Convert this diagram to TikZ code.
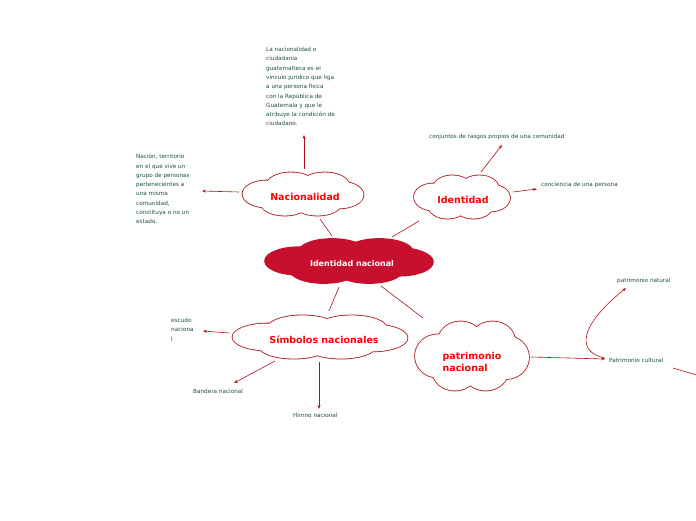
\documentclass[tikz,border=0pt]{standalone}
\usepackage{fontspec}
\setmainfont{DejaVu Sans}
\usetikzlibrary{arrows.meta,positioning}
\definecolor{linkred}{HTML}{B0121B}
\definecolor{textgreen}{HTML}{1F4A4A}
\definecolor{centerred}{HTML}{C8102E}
\tikzset{
    lobe edge/.style={draw=linkred, line width=1.6pt},
    lobe fill/.style={fill=white},
    topic/.style={text=red, font=\bfseries\fontsize{9.5}{12}\selectfont, inner sep=0pt, align=left},
    note/.style={text=textgreen, font=\fontsize{5.7}{9.3}\selectfont, inner sep=0pt, align=left},
    link/.style={draw=linkred, line width=0.6pt},
    arrowlink/.style={link, -{Stealth[length=4pt,width=3pt]}}
}
% cloud from overlapping ellipses: #1 centre, #2 width, #3 height, #4 edge style, #5 fill style
\newcommand{\mapcloud}[5]{%
  \begin{scope}[shift={#1}]
    \foreach \lx/\ly/\rx/\ry in {-.3/0/.2/.3, -.1/-.2/.2/.28, .18/-.2/.2/.28, .3/.02/.2/.3, .12/.2/.2/.28, -.15/.2/.2/.28, 0/0/.35/.3}
      \path[#4] (\lx*#2,\ly*#3) ellipse [x radius=\rx*#2, y radius=\ry*#3];
    \foreach \lx/\ly/\rx/\ry in {-.3/0/.2/.3, -.1/-.2/.2/.28, .18/-.2/.2/.28, .3/.02/.2/.3, .12/.2/.2/.28, -.15/.2/.2/.28, 0/0/.35/.3}
      \path[#5] (\lx*#2,\ly*#3) ellipse [x radius=\rx*#2, y radius=\ry*#3];
  \end{scope}}
\begin{document}
\begin{tikzpicture}[x=1pt,y=-1pt]
    \useasboundingbox (0,0) rectangle (696,520);

    % main clouds
    \mapcloud{(349,261)}{168}{46}{draw=centerred, line width=1.6pt}{fill=centerred}
    \mapcloud{(303,194)}{121}{45}{lobe edge}{lobe fill}
    \mapcloud{(462,197)}{96}{45}{lobe edge}{lobe fill}
    \mapcloud{(320,337)}{175}{45}{lobe edge}{lobe fill}
    \mapcloud{(472,356)}{114}{72}{lobe edge}{lobe fill}
    \node[topic, text=white, font=\bfseries\fontsize{8}{10}\selectfont] (center) at (352,264) {Identidad nacional};
    \node[topic] (nac) at (305,197) {Nacionalidad};
    \node[topic] (ide) at (463,200) {Identidad};
    \node[topic] (sim) at (324,340) {Símbolos nacionales};
    \node[topic] (pat) at (472,362) {patrimonio\\nacional};

    % notes
    \node[note, anchor=north west] (nacdef) at (266,47) {La nacionalidad o\\ciudadania\\guatemalteca es el\\vinculo juridico que liga\\a una persona fisica\\con la República de\\Guatemala y que le\\atribuye la condición de\\ciudadano.};
    \node[note, anchor=north west] (nacter) at (136,154) {Nación, territorio\\en el que vive un\\grupo de personas\\pertenecientes a\\una misma\\comunidad,\\constituya o no un\\estado.};
    \node[note, anchor=west] (rasgos) at (429,137) {conjuntos de rasgos propios de una comunidad};
    \node[note, anchor=west] (concie) at (541,185) {conciencia de una persona};
    \node[note, anchor=north west] (escudo) at (171,318) {escudo\\naciona\\l};
    \node[note, anchor=west] (bandera) at (193,391) {Bandera nacional};
    \node[note, anchor=west] (himno) at (293,415) {Himno nacional};
    \node[note, anchor=west] (cultural) at (609,360) {Patrimonio cultural};
    \node[note, anchor=west] (natural) at (617,281) {patrimonio natural};
    \coordinate (offedge) at (700,376);

    % links from the center
    \draw[link] (332,236) -- (320,219);
    \draw[link] (392,237) -- (419,221);
    \draw[link] (339,287) -- (329,311);
    \draw[link] (381,286) -- (423,318);

    % arrows to notes
    \draw[arrowlink] (304,169) -- (304,135);
    \draw[arrowlink] (239,192) -- (202,191);
    \draw[arrowlink] (481,172) -- (502,145);
    \draw[arrowlink] (513,192) -- (537,189);
    \draw[arrowlink] (229,333) -- (203,331);
    \draw[arrowlink] (275,361) -- (234,383);
    \draw[arrowlink] (319,362) -- (319,409);
    \draw[arrowlink] (531,357) -- (605,359);
    \draw[arrowlink] (605,358) .. controls (575,352) and (580,325) .. (626,288);
    \draw[link] (673,368) -- (offedge);
\end{tikzpicture}
\end{document}
